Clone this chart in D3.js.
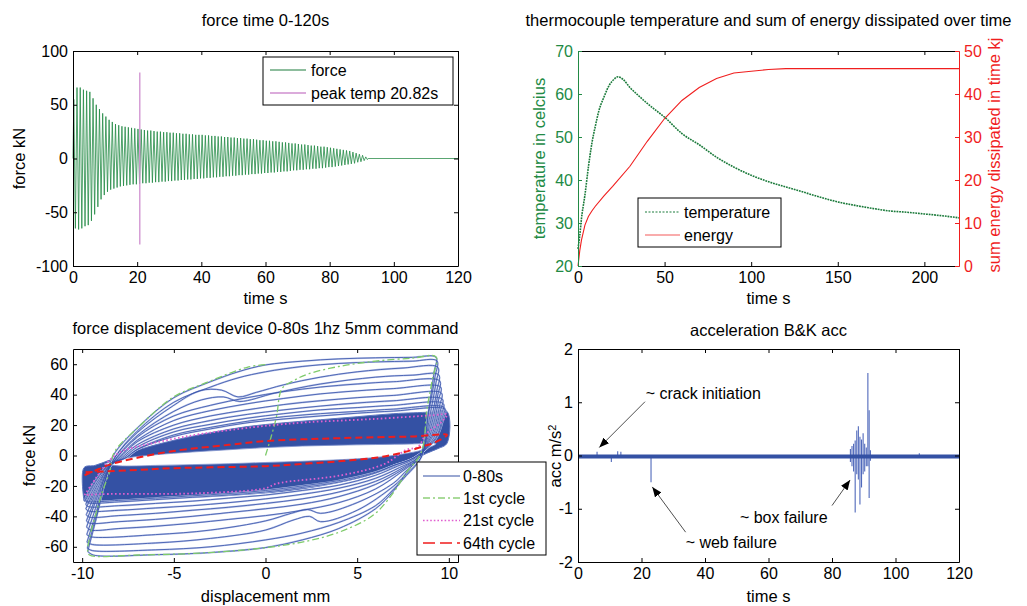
<!DOCTYPE html>
<html lang="en">
<head>
<meta charset="UTF-8">
<title>fatigue test plots</title>
<script src="https://cdn.jsdelivr.net/npm/d3@7"></script>
<style>
  body { margin: 0; background: #fff; }
  svg { display: block; font-family: "Liberation Sans", Arial, sans-serif; }
  .tick text { font-family: "Liberation Sans", Arial, sans-serif; font-size: 16px; }
  .title, .lab { font-size: 16.5px; fill: #000; }
  .leg { font-size: 16px; fill: #000; }
</style>
</head>
<body>
<svg id="fig" width="1027" height="606"></svg>
<script>
// ---------- force time (peak per 1 s cycle, kN) ----------
const forceMax = [55, 66, 66, 64, 63, 62, 56, 50, 46, 42,
  39, 36, 34, 32, 31, 30, 29.5, 29, 28.5, 28,
  27.5, 27, 26.5, 26, 26, 25.5, 25, 25, 24.5, 24.5,
  24, 24, 23.5, 23.5, 23, 23, 22.5, 22.5, 22, 22,
  22, 21.5, 21.5, 21, 21, 20.5, 20.5, 20, 20, 19.5,
  19.5, 19, 19, 18.5, 18.5, 18, 18, 17.5, 17, 17,
  16.5, 16.5, 16, 16, 15.5, 15, 15, 14.5, 14, 14,
  13.5, 13, 13, 12.5, 12, 12, 11.5, 11, 11, 10.5,
  10, 9.5, 9, 8.5, 8, 7.5, 7, 6, 5, 4, 3, 1.5];
const forceMin = [-65, -66, -65, -63, -62, -58, -52, -45, -38, -34,
  -31, -29, -28, -27, -26, -25.5, -25, -24.5, -24, -24,
  -23.5, -23, -23, -22.5, -22.5, -22, -22, -21.5, -21.5, -21,
  -21, -20.5, -20.5, -20, -20, -19.5, -19.5, -19, -19, -18.5,
  -18.5, -18, -18, -17.5, -17.5, -17, -17, -16.5, -16.5, -16,
  -16, -15.5, -15.5, -15, -15, -14.5, -14.5, -14, -14, -13.5,
  -13.5, -13, -13, -12.5, -12.5, -12, -12, -11.5, -11, -11,
  -10.5, -10.5, -10, -10, -9.5, -9.5, -9, -9, -8.5, -8,
  -8, -7.5, -7, -6.5, -6, -5.5, -5, -4.5, -3.5, -3, -2, -1];
const restT = [92, 120];
const restF = [0, 0];
const peakTemp = 20.82;
const peakSpan = [-80, 80];

// ---------- thermocouple / energy ----------
const tempT = [0, 1, 2, 4, 6, 8, 10, 12, 15, 18, 21, 23, 26, 30, 35, 40, 45, 50, 60, 70,
  80, 90, 100, 110, 120, 130, 140, 150, 160, 170, 180, 190, 200, 210, 220];
const tempV = [24, 27, 31, 36.5, 43, 48.5, 52.5, 56, 59.3, 62, 63.5, 64, 63.4, 61.5, 59.6, 57.8, 56.2, 54.6, 50.8, 48.2,
  45.3, 43, 41.1, 39.6, 38.4, 37.2, 36, 34.9, 34.1, 33.4, 32.8, 32.5, 32.1, 31.7, 31.2];
const energyT = [0, 1, 2, 4, 6, 8, 10, 15, 20, 30, 40, 50, 60, 70, 80, 90, 100, 110, 120, 220];
const energyV = [0, 3.5, 6, 9.5, 11.5, 12.8, 13.9, 16.3, 18.5, 23.2, 29, 34.3, 38.5, 41.5, 43.6, 44.9, 45.3, 45.7, 45.9, 45.9];

// ---------- force displacement loops [mm, kN] ----------
const loop2 = [[-9.7,-63],[-9.2,-40],[-8.7,-15],[-8.3,0],[-7,18],[-5,38],[-3,48.5],[-1.5,55],[0,59.5],[2,62],[4,63.5],[6,64.2],[8,64.5],[9.3,64.6],
  [9.2,55],[8.9,30],[8.5,2],[7.7,-11],[7,-23],[6,-35],[4,-48],[2,-55.5],[0,-60.5],[-3,-63.8],[-6,-65.2],[-9.4,-65.4],[-9.7,-63]];
const loop3 = [[-9.72,-61],[-9.2,-38],[-8.7,-14],[-8.2,-1],[-7,16],[-5,35],[-3,45],[-1.5,51],[0,55],[2,58.5],[4,60.5],[6,61.5],[8,62],[9.35,62.2],
  [9.25,52],[8.9,28],[8.5,-1],[7.7,-13],[7,-22],[6,-33],[4,-44],[2,-51],[0,-55.5],[-3,-60],[-6,-62],[-9.45,-62.5],[-9.72,-61]];
const loop4 = [[-9.74,-57],[-9.2,-36],[-8.7,-14],[-8.2,-1],[-7,15],[-5,33],[-3.6,42.5],[-2.4,43],[-1.5,38.5],[-0.5,41.5],[1,46.5],[3,51.5],[5,55],[7.5,57.5],[9.4,58],
  [9.3,48],[8.95,25],[8.5,-1],[7.7,-12],[7,-20],[5,-36],[3,-43.5],[2.4,-40],[1.5,-42.5],[0,-49],[-3,-54.5],[-6,-57.5],[-9.45,-58.5],[-9.74,-57]];
const loop5 = [[-9.75,-52],[-9.2,-32],[-8.7,-12],[-8.1,-1],[-7,13],[-5,29],[-3.5,36.5],[-2.3,38.5],[-1.4,35.5],[0.5,41],[3,47],[6,51.5],[8,52.8],[9.45,53],
  [9.35,43],[9,22],[8.4,-1],[7.6,-11],[7,-18],[5,-31],[3,-38],[2.3,-35.5],[1.4,-38],[0,-43],[-3,-49],[-6,-52],[-9.5,-53.5],[-9.75,-52]];
const loop6 = [[-9.76,-47],[-9.2,-28],[-8.6,-10],[-8.1,-1.5],[-7,12],[-5,26],[-3,33],[-1,38],[1,42],[3,45],[5,47],[7,48.5],[9.5,49],
  [9.4,40],[9.05,20],[8.4,-1],[7.5,-10],[6,-22],[4,-31],[2,-36],[0,-39.5],[-2,-42],[-4,-44.5],[-6,-46.5],[-8,-48],[-9.55,-49],[-9.76,-47]];
const loop7 = [[-9.77,-43],[-9.2,-26],[-8.6,-9],[-8,-1.5],[-7,10],[-5,23],[-3,29.5],[-1,34],[1,37.5],[3,40.5],[5,42.5],[7,44],[9.55,45],
  [9.45,37],[9.1,18],[8.4,-1],[7.5,-9],[6,-19],[4,-27],[2,-32],[0,-35],[-2,-37.5],[-4,-40],[-6,-42],[-8,-43.5],[-9.6,-44.5],[-9.77,-43]];
const loop8 = [[-9.78,-39],[-9.2,-23],[-8.6,-8],[-8,-2],[-7,9],[-5,20],[-3,26],[-1,30],[1,33.5],[3,36],[5,38],[7,39.5],[9.6,41],
  [9.5,33],[9.15,16],[8.35,-1],[7.5,-8],[6,-17],[4,-24],[2,-28.5],[0,-31.5],[-2,-34],[-4,-36],[-6,-38],[-8,-39.5],[-9.62,-40.5],[-9.78,-39]];
const loop9 = [[-9.8,-35],[-9.2,-20],[-8.5,-7],[-7.9,-2],[-7,7],[-5,17.5],[-3,23],[-1,27],[1,30],[3,32.5],[5,34.5],[7,36],[9.65,37],
  [9.55,30],[9.2,15],[8.3,-1.5],[7.3,-8],[6,-15],[4,-21.5],[2,-25.5],[0,-28.5],[-2,-31],[-4,-33],[-6,-34.5],[-8,-36],[-9.65,-36.5],[-9.8,-35]];
const loop10 = [[-9.8,-32],[-9.2,-18],[-8.5,-6.5],[-7.8,-2],[-7,5.5],[-5,15.5],[-3,20.5],[-1,24.5],[1,27.5],[3,30],[5,31.5],[7,33],[9.7,34],
  [9.6,27],[9.25,13],[8.2,-1.5],[7.2,-7],[6,-13],[4,-19.5],[2,-23],[0,-26],[-2,-28],[-4,-30],[-6,-31.5],[-8,-33],[-9.7,-33.5],[-9.8,-32]];
const loop11 = [[-9.82,-29.5],[-9.2,-16],[-8.5,-6],[-7.7,-2],[-7,4],[-5,13.5],[-3,18.5],[-1,22.5],[1,25.5],[3,27.5],[5,29],[7,30.5],[9.75,31.5],
  [9.65,25],[9.3,12],[8.1,-1.5],[7,-6.5],[6,-11.5],[4,-17.5],[2,-21],[0,-24],[-2,-26],[-4,-27.5],[-6,-29],[-8,-30.5],[-9.72,-31],[-9.82,-29.5]];
const loop12 = [[-9.84,-28.5],[-9.2,-15],[-8.5,-5.5],[-7.6,-1.5],[-7,3.8],[-5,12.5],[-3,17.5],[-1,21.5],[1,24],[3,26],[5,27.8],[7,29.2],[9.8,30.3],
  [9.7,24],[9.3,11],[8.1,-1.5],[7,-6.5],[6,-11],[4,-16.5],[2,-20],[0,-23],[-2,-25],[-4,-26.5],[-6,-28],[-8,-29.5],[-9.75,-30],[-9.84,-28.5]];
const loops = [loop2, loop3, loop4, loop5, loop6, loop7, loop8, loop9, loop10, loop11, loop12];

// dense band of cycles ~20-80 (outline) and the empty wedge inside it
const bandTop = [[-9.9,-30],[-9.9,-8],[-9.3,-6.5],[-8.6,-3.5],[-8,-1],[-7,3.5],[-5,10],[-3,15],[-1,19],[1,21.5],[3,23.5],[5,25.5],[7,27.5],[9,28.5],[9.9,29]];
const bandBottom = [[9.9,8],[9.4,4.5],[8.8,1.5],[8.3,-1.5],[7.8,-4],[7,-7.5],[6,-11.5],[5,-15],[3,-20],[1,-23.5],[-1,-25.5],[-3,-27],[-5,-28],[-7,-29],[-9,-30],[-9.9,-30]];
const wedgeTop = [[-8.8,-5.5],[-7.5,-1.5],[-6,0.5],[-4,2.3],[-2,3.8],[0,5.2],[2,6.2],[4,6.8],[6,7.2],[8,7.6],[9.3,7.8]];
const wedgeBottom = [[8.6,3.8],[7.5,1],[6,-1.3],[4,-2.8],[2,-3.8],[0,-4.6],[-2,-5.4],[-4,-6],[-6,-6.5],[-8,-6.8],[-8.8,-5.5]];

const cycle1 = [[0,0],[0.3,12],[0.6,25.6],[0.9,44],[1.5,49],[2.3,53.5],[4,58.5],[6,62],[8,64],[9.3,64.8],
  [9.1,50],[8.8,30],[8.5,2],[7.7,-11],[7,-24],[5.9,-39],[4.1,-50],[2.25,-56.3],[0,-60.6],[-3.2,-63.9],[-6.9,-65.4],[-9.6,-65.4],[-9.7,-62.8],
  [-8.9,-24],[-8.5,-10.9],[-8.25,2],[-6.9,19],[-5,38.6],[-3.2,48],[-1,58],[0,59.8]];
const cycle21 = [[-9.87,-26],[-9.2,-14],[-8.5,-3],[-7.8,3],[-6.3,7.7],[-5,11],[-3.6,14],[-1.4,17.5],[0,19.5],[2.25,21.8],[5.9,24],[9.2,26.5],[9.9,27],
  [9.6,22],[8.8,14.7],[8.3,5.5],[7.7,3.9],[6.5,-5.5],[4.1,-13.1],[0.6,-18.5],[0,-21.5],[-3.6,-24.8],[-9,-25.4],[-9.87,-26]];
const cycle64 = [[-9.87,-13],[-9.3,-10],[-8.5,-6],[-7,-1.5],[-5,3],[-2,7],[0,9.5],[3,11],[6,12],[8,12.5],[9.9,13.5],
  [9.3,9],[8.6,6],[7.5,2],[6,-1.5],[4,-3.8],[2,-5.5],[0,-7],[-3,-7.8],[-5,-8.3],[-7,-9.5],[-9.87,-11]];

// ---------- acceleration ----------
const accBaseT = [0, 120];
const accBaseV = [-0.02, -0.02];
const spikeT  = [6, 10.5, 12.5, 13.5, 23, 85.8, 86.3, 86.8, 87.3, 87.8, 88.3, 88.8, 89.3, 89.8, 90.3, 90.8, 91.3, 91.7, 92.1, 107.5];
const spikeHi = [0.07, 0, 0.08, 0.07, 0, 0.12, 0.18, 0.22, 0.28, 0.47, 0.55, 0.35, 0.3, 0.42, 0.22, 0.15, 1.55, 0.85, 0.1, 0.04];
const spikeLo = [-0.03, -0.12, -0.03, -0.03, -0.5, -0.12, -0.2, -0.3, -1.07, -0.35, -0.45, -0.92, -0.6, -0.35, -0.3, -0.2, -0.2, -0.8, -0.1, -0.03];
const noteText = ["~ crack initiation", "~ web failure", "~ box failure"];
const noteT = [21.3, 33.9, 51];
const noteV = [1.06, -1.74, -1.26];
const arrowT0 = [21.1, 33.9, 80];
const arrowV0 = [1.01, -1.44, -0.94];
const arrowT1 = [6.7, 23.4, 85.7];
const arrowV1 = [0.15, -0.59, -0.46];

// ---------- drawing ----------
const svg = d3.select("#fig");
const fmt = d => String(d);
const GREEN = "#1d7d3d", RED = "#f01e1e", BLUE = "#3451a4";

function panel(box, xDom, yDom) {
  const x = d3.scaleLinear().domain(xDom).range([box.l, box.r]);
  const y = d3.scaleLinear().domain(yDom).range([box.b, box.t]);
  return { box, x, y, g: svg.append("g") };
}

function axes(p, xt, yt, o = {}) {
  const { box, x, y } = p;
  const g = svg.append("g");
  const inner = a => a.tickSizeInner(-4).tickSizeOuter(0);
  g.append("g").attr("transform", `translate(0,${box.b})`).attr("color", "#000")
    .call(inner(d3.axisBottom(x).tickValues(xt).tickFormat(fmt)).tickPadding(6));
  g.append("g").attr("transform", `translate(0,${box.t})`).attr("color", "#000")
    .call(inner(d3.axisTop(x).tickValues(xt).tickFormat("")));
  g.append("g").attr("transform", `translate(${box.l},0)`).attr("color", o.leftColor || "#000")
    .call(inner(d3.axisLeft(y).tickValues(yt).tickFormat(fmt)).tickPadding(5));
  if (o.y2) {
    g.append("g").attr("transform", `translate(${box.r},0)`).attr("color", o.rightColor)
      .call(inner(d3.axisRight(o.y2).tickValues(o.y2t).tickFormat(fmt)).tickPadding(5));
  } else {
    g.append("g").attr("transform", `translate(${box.r},0)`).attr("color", "#000")
      .call(inner(d3.axisRight(y).tickValues(yt).tickFormat("")));
  }
  g.selectAll(".domain").attr("stroke-width", 1);
}

function labels(p, title, titleY, xlab, xlabY, ylab, ylabX, ycol) {
  const cx = (p.box.l + p.box.r) / 2, cy = (p.box.t + p.box.b) / 2;
  svg.append("text").attr("class", "title").attr("x", cx).attr("y", titleY).attr("text-anchor", "middle").text(title);
  svg.append("text").attr("class", "lab").attr("x", cx).attr("y", xlabY).attr("text-anchor", "middle").text(xlab);
  return svg.append("text").attr("class", "lab").attr("text-anchor", "middle")
    .attr("transform", `translate(${ylabX},${cy}) rotate(-90)`).style("fill", ycol || "#000").text(ylab);
}

function legend(x, y, w, h, rows) {
  const g = svg.append("g");
  g.append("rect").attr("x", x).attr("y", y).attr("width", w).attr("height", h)
    .attr("fill", "#fff").attr("stroke", "#000").attr("stroke-width", 1);
  rows.forEach(r => {
    g.append("line").attr("x1", r.x0).attr("x2", r.x1).attr("y1", r.y).attr("y2", r.y)
      .attr("stroke", r.color).attr("stroke-width", r.w || 1.2).attr("stroke-dasharray", r.dash || null);
    g.append("text").attr("class", "leg").attr("x", r.tx).attr("y", r.y).attr("dy", "0.35em").text(r.label);
  });
}

// ---- panel 1: force time ----
const p1 = panel({ l: 73, r: 458, t: 51, b: 266 }, [0, 120], [-100, 100]);
const forcePts = [[0, 0]];
forceMax.forEach((m, i) => { forcePts.push([i + 0.25, m], [i + 0.75, forceMin[i]]); });
forcePts.push([restT[0], restF[0]]);
p1.g.append("path").attr("d", d3.line().x(d => p1.x(d[0])).y(d => p1.y(d[1]))(forcePts))
  .attr("fill", "none").attr("stroke", "#238a45").attr("stroke-width", 0.8);
p1.g.append("path").attr("d", d3.line().x((d, i) => p1.x(restT[i])).y((d, i) => p1.y(restF[i]))(restT))
  .attr("fill", "none").attr("stroke", "#5aa672").attr("stroke-width", 1);
p1.g.append("line").attr("x1", p1.x(peakTemp)).attr("x2", p1.x(peakTemp))
  .attr("y1", p1.y(peakSpan[0])).attr("y2", p1.y(peakSpan[1])).attr("stroke", "#cf8fcf").attr("stroke-width", 1.3);
axes(p1, d3.range(0, 121, 20), [-100, -50, 0, 50, 100]);
labels(p1, "force time 0-120s", 26, "time s", 303.5, "force kN", 25);
legend(263, 57, 190, 48, [
  { x0: 270, x1: 306, y: 70, tx: 311, color: GREEN, label: "force" },
  { x0: 270, x1: 306, y: 93, tx: 311, color: "#cf8fcf", w: 1.6, label: "peak temp 20.82s" }
]);

// ---- panel 2: temperature & energy ----
const p2 = panel({ l: 578, r: 959, t: 51, b: 266 }, [0, 220], [20, 70]);
const yE = d3.scaleLinear().domain([0, 50]).range([266, 51]);
p2.g.append("path").attr("d", d3.line().x((d, i) => p2.x(energyT[i])).y(d => yE(d))(energyV))
  .attr("fill", "none").attr("stroke", RED).attr("stroke-width", 1.1);
p2.g.append("path").attr("d", d3.line().curve(d3.curveMonotoneX).x((d, i) => p2.x(tempT[i])).y(d => p2.y(d))(tempV))
  .attr("fill", "none").attr("stroke", "#1a7a3a").attr("stroke-width", 1.6).attr("stroke-dasharray", "1.8,0.9");
axes(p2, [0, 50, 100, 150, 200], [20, 30, 40, 50, 60, 70],
  { leftColor: "#228a45", rightColor: RED, y2: yE, y2t: [0, 10, 20, 30, 40, 50] });
labels(p2, "thermocouple temperature and sum of energy dissipated over time", 26, "time s", 303.5,
  "temperature in celcius", 545, "#228a45");
svg.append("text").attr("class", "lab").attr("text-anchor", "middle")
  .attr("transform", `translate(1000,155) rotate(-90)`).style("fill", RED).text("sum energy dissipated in time kj");
legend(638, 198, 143, 49, [
  { x0: 645, x1: 680, y: 212, tx: 684, color: GREEN, dash: "2,1.5", label: "temperature" },
  { x0: 645, x1: 680, y: 235, tx: 684, color: "#f45a5a", label: "energy" }
]);

// ---- panel 3: force displacement ----
const p3 = panel({ l: 73, r: 458, t: 349, b: 562 }, [-10.5, 10.5], [-70, 70]);
const cr3 = d3.line().curve(d3.curveCatmullRom.alpha(0.5)).x(d => p3.x(d[0])).y(d => p3.y(d[1]));
p3.g.append("path").attr("d", cr3(bandTop.concat(bandBottom))).attr("fill", BLUE).attr("stroke", "#5d75bf").attr("stroke-width", 1);
p3.g.append("path").attr("d", cr3(wedgeTop.concat(wedgeBottom))).attr("fill", "#fff").attr("stroke", "#7d90cc").attr("stroke-width", 0.8);
loops.forEach(lp => {
  p3.g.append("path").attr("d", cr3(lp)).attr("fill", "none").attr("stroke", "#bcc7ea").attr("stroke-width", 1.8);
});
loops.forEach(lp => {
  p3.g.append("path").attr("d", cr3(lp)).attr("fill", "none").attr("stroke", "#3550a8").attr("stroke-width", 0.8);
});
p3.g.append("path").attr("d", cr3(cycle1)).attr("fill", "none").attr("stroke", "#7fcb6b")
  .attr("stroke-width", 1.3).attr("stroke-dasharray", "7,3,2,3");
p3.g.append("path").attr("d", cr3(cycle21)).attr("fill", "none").attr("stroke", "#e060d0")
  .attr("stroke-width", 1.8).attr("stroke-dasharray", "1.6,2.4");
p3.g.append("path").attr("d", cr3(cycle64)).attr("fill", "none").attr("stroke", "#ef1d1d")
  .attr("stroke-width", 2).attr("stroke-dasharray", "7,4");
axes(p3, [-10, -5, 0, 5, 10], [-60, -40, -20, 0, 20, 40, 60]);
labels(p3, "force displacement device 0-80s 1hz 5mm command", 333.5, "displacement mm", 602, "force kN", 35);
legend(417, 462, 129, 93, [
  { x0: 423, x1: 460, y: 476, tx: 463, color: "#3451a4", label: "0-80s" },
  { x0: 423, x1: 460, y: 498, tx: 463, color: "#8fd07a", w: 1.6, dash: "7,3,2,3", label: "1st cycle" },
  { x0: 423, x1: 460, y: 520.5, tx: 463, color: "#e060d0", w: 1.4, dash: "1.6,2", label: "21st cycle" },
  { x0: 423, x1: 460, y: 543, tx: 463, color: "#ef1d1d", w: 1.4, dash: "12,5", label: "64th cycle" }
]);

// ---- panel 4: acceleration ----
const p4 = panel({ l: 578, r: 959, t: 349, b: 562 }, [0, 120], [-2, 2]);
p4.g.selectAll("line.spk").data(spikeT).join("line").attr("class", "spk")
  .attr("x1", d => p4.x(d)).attr("x2", d => p4.x(d))
  .attr("y1", (d, i) => p4.y(spikeLo[i])).attr("y2", (d, i) => p4.y(spikeHi[i]))
  .attr("stroke", "#5069bb").attr("stroke-width", 1.1);
p4.g.append("path").attr("d", d3.line().x((d, i) => p4.x(accBaseT[i])).y(d => p4.y(d))(accBaseV))
  .attr("fill", "none").attr("stroke", BLUE).attr("stroke-width", 4);
axes(p4, d3.range(0, 121, 20), [-2, -1, 0, 1, 2]);
labels(p4, "acceleration B&K acc", 335.5, "time s", 601.5, "", 561);
const accLab = svg.append("text").attr("class", "lab").attr("text-anchor", "middle")
  .attr("transform", `translate(561,456) rotate(-90)`);
accLab.append("tspan").text("acc m/s");
accLab.append("tspan").attr("dy", "-0.5em").style("font-size", "11px").text("2");

svg.append("defs").append("marker").attr("id", "head").attr("markerUnits", "userSpaceOnUse")
  .attr("viewBox", "0 0 10 8").attr("refX", 10).attr("refY", 4)
  .attr("markerWidth", 10).attr("markerHeight", 8).attr("orient", "auto")
  .append("path").attr("d", "M0,0L10,4L0,8z").attr("fill", "#000");
noteText.forEach((t, i) => {
  svg.append("line").attr("x1", p4.x(arrowT0[i])).attr("y1", p4.y(arrowV0[i]))
    .attr("x2", p4.x(arrowT1[i])).attr("y2", p4.y(arrowV1[i]))
    .attr("stroke", "#222").attr("stroke-width", 0.8).attr("marker-end", "url(#head)");
  svg.append("text").attr("class", "leg").attr("x", p4.x(noteT[i])).attr("y", p4.y(noteV[i])).text(t);
});
</script>
</body>
</html>
